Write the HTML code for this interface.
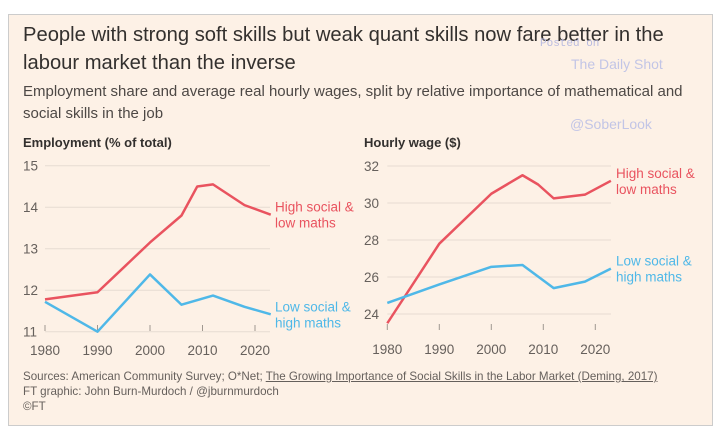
<!DOCTYPE html>
<html><head><meta charset="utf-8"><style>
body{margin:0;width:718px;height:428px;background:#fff;font-family:"Liberation Sans",sans-serif;overflow:hidden}
#box{position:absolute;left:8px;top:14px;width:703px;height:410px;background:#fdf1e6;border:1px solid #ccc;}
.t{position:absolute;white-space:nowrap;color:#33302e}
</style></head><body>
<div id="box"></div>
<div class="t" style="left:23px;top:21px;font-size:20.2px;line-height:28px;color:#33302e">People with strong soft skills but weak quant skills now fare better in the<br>labour market than the inverse</div>
<div class="t" style="left:23px;top:81px;font-size:15px;line-height:22px;color:#4d4845">Employment share and average real hourly wages, split by relative importance of mathematical and<br>social skills in the job</div>
<div class="t" style="left:540px;top:38px;font-size:11px;color:#b9bbe0;font-family:'Liberation Mono',monospace">Posted on</div>
<div class="t" style="left:571px;top:56px;font-size:14px;color:#c2c5e6">The Daily Shot</div>
<div class="t" style="left:570px;top:116px;font-size:14px;color:#c2c5e6">@SoberLook</div>
<svg id="svg" width="718" height="428" style="position:absolute;left:0;top:0"></svg>
<div class="t" style="left:23px;top:369px;font-size:11.6px;line-height:15px;color:#66605c">Sources: American Community Survey; O*Net; <span style="text-decoration:underline">The Growing Importance of Social Skills in the Labor Market (Deming, 2017)</span><br>FT graphic: John Burn-Murdoch / @jburnmurdoch<br>©FT</div>
<script>
const years1=[1980,1990,2000,2006,2009,2012,2018,2023];
const empHigh=[11.78,11.95,13.15,13.8,14.5,14.55,14.05,13.82];
const yearsB1=[1980,1990,2000,2006,2012,2018,2023];
const empLow=[11.72,11.0,12.38,11.65,11.87,11.6,11.42];
const empTicks=[11,12,13,14,15];
const years2=[1980,1990,2000,2006,2009,2012,2018,2023];
const wageHigh=[23.5,27.8,30.5,31.5,31.0,30.25,30.45,31.2];
const yearsB2=[1980,1990,2000,2006,2012,2018,2023];
const wageLow=[24.6,25.6,26.55,26.65,25.4,25.75,26.45];
const wageTicks=[24,26,28,30,32];
const xTicks=[1980,1990,2000,2010,2020];
const svg=document.getElementById('svg');
const NS='http://www.w3.org/2000/svg';
function mk(tag,attrs,name){const e=document.createElementNS(NS,tag);for(const k in attrs)e.setAttribute(k,attrs[k]);


svg.appendChild(e);return e;}
function panel(cfg){
 const X=v=>cfg.x0+(v-1980)*cfg.xs, Y=v=>cfg.y0-(v-cfg.vmin)*cfg.ys;
 cfg.yt.forEach(t=>{mk('line',{x1:cfg.x0,x2:cfg.gx,y1:Y(t),y2:Y(t),stroke:'#e6dcd2','stroke-width':1},'gridline');
  const tx=mk('text',{x:cfg.lblx,y:Y(t)+5,'font-size':13.5,fill:'#66605c'},'y-tick-label');tx.textContent=t;});
 cfg.xt.forEach(t=>{mk('line',{x1:X(t),x2:X(t),y1:cfg.axY-6,y2:cfg.axY,stroke:'#a09890'},'x-tick');
  const tx=mk('text',{x:X(t),y:cfg.axY+24,'font-size':13.5,fill:'#66605c','text-anchor':'middle'},'x-tick-label');tx.textContent=t;});
 const pl=(xs,vs,c,n)=>mk('polyline',{points:xs.map((x,i)=>X(x)+','+Y(vs[i])).join(' '),fill:'none',stroke:c,'stroke-width':2.5,'stroke-linejoin':'round'},n);
 pl(cfg.xr,cfg.red,'#e9535f',cfg.nm+'-high-social-line');
 pl(cfg.xb,cfg.blue,'#4fb8e8',cfg.nm+'-low-social-line');
 const lab=(v,c,l1,l2,n)=>{const t=mk('text',{x:cfg.lx,y:Y(v)-3,'font-size':13.5,fill:c},n);
  t.innerHTML='<tspan x="'+cfg.lx+'">'+l1+'</tspan><tspan x="'+cfg.lx+'" dy="16">'+l2+'</tspan>';};
 lab(cfg.red[cfg.red.length-1],'#e9535f','High social &amp;','low maths',cfg.nm+'-high-label');
 lab(cfg.blue[cfg.blue.length-1],'#4fb8e8','Low social &amp;','high maths',cfg.nm+'-low-label');
 const tt=mk('text',{x:cfg.lblx,y:147,'font-size':13,fill:'#33302e','font-weight':'bold'},cfg.nm+'-axis-title');tt.textContent=cfg.title;
}
panel({nm:'employment',x0:45,xs:5.25,y0:331.7,vmin:11,ys:41.5,gx:270,axY:331,lblx:23,yt:empTicks,xt:xTicks,xr:years1,red:empHigh,xb:yearsB1,blue:empLow,lx:275,title:'Employment (% of total)'});
panel({nm:'wage',x0:387.3,xs:5.2,y0:314,vmin:24,ys:18.5,gx:611,axY:330,lblx:364,yt:wageTicks,xt:xTicks,xr:years2,red:wageHigh,xb:yearsB2,blue:wageLow,lx:616,title:'Hourly wage ($)'});
</script>
</body></html>
